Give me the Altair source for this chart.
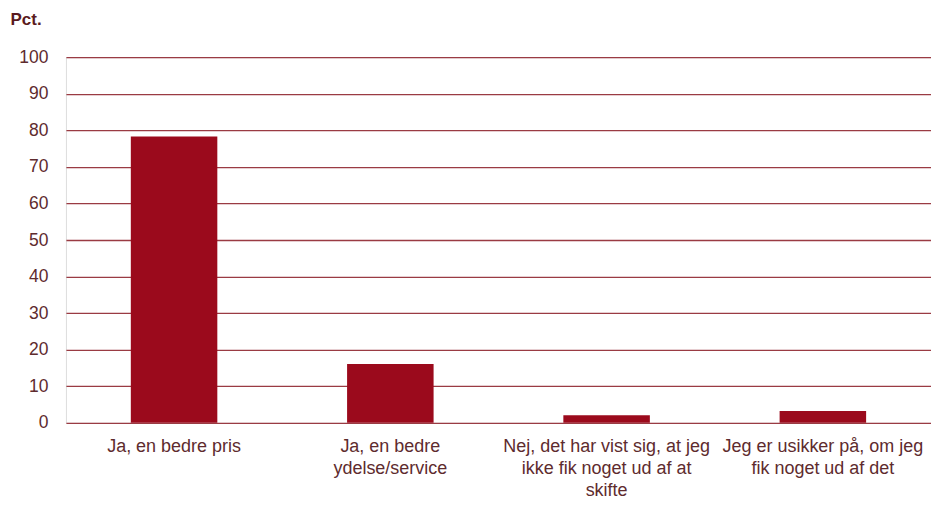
import altair as alt
import pandas as pd

categories = [
    "Ja, en bedre pris",
    "Ja, en bedre ydelse/service",
    "Nej, det har vist sig, at jeg ikke fik noget ud af at skifte",
    "Jeg er usikker på, om jeg fik noget ud af det",
]
label_lines = [
    ["Ja, en bedre pris"],
    ["Ja, en bedre", "ydelse/service"],
    ["Nej, det har vist sig, at jeg", "ikke fik noget ud af at", "skifte"],
    ["Jeg er usikker på, om jeg", "fik noget ud af det"],
]
values = [78.3, 16.1, 2.1, 3.2]

df = pd.DataFrame({"kategori": categories, "pct": values})

def js_str(s):
    return "'" + s.replace("'", "\\'") + "'"

expr = "datum.label"
for cat, lines in reversed(list(zip(categories, label_lines))):
    arr = "[" + ",".join(js_str(l) for l in lines) + "]"
    expr = f"datum.value == {js_str(cat)} ? {arr} : ({expr})"

FONT = "Liberation Sans"
TXT = "#5e2b2e"
GRID = "#9a3b43"
BAR = "#9b0a1c"

chart = (
    alt.Chart(df)
    .mark_bar(color=BAR)
    .encode(
        x=alt.X(
            "kategori:N",
            sort=categories,
            scale=alt.Scale(paddingInner=0.6, paddingOuter=0.3),
            axis=alt.Axis(
                title=None,
                labelAngle=0,
                labelExpr=expr,
                labelFont=FONT,
                labelFontSize=18,
                labelColor=TXT,
                labelLineHeight=22,
                labelPadding=15,
                ticks=False,
                domain=False,
                labelLimit=300,
            ),
        ),
        y=alt.Y(
            "pct:Q",
            scale=alt.Scale(domain=[0, 100]),
            axis=alt.Axis(
                values=list(range(0, 101, 10)),
                title="Pct.",
                titleAngle=0,
                titleAlign="left",
                titleBaseline="alphabetic",
                titleX=-56,
                titleY=-33,
                titleFont=FONT,
                titleFontSize=17,
                titleFontWeight="bold",
                titleColor="#5a1a20",
                labelFont=FONT,
                labelFontSize=17.5,
                labelColor=TXT,
                labelPadding=18,
                ticks=False,
                domain=False,
                grid=True,
                gridColor=GRID,
                gridWidth=1.3,
            ),
        ),
    )
    .properties(
        width=866,
        height=366,
        autosize=alt.AutoSizeParams(type="none"),
        padding={"left": 58, "top": 49, "right": 0, "bottom": 76},
    )
    .configure_view(stroke=None)
    .configure(background="white")
)

chart.save("out.html", embed_options={"renderer": "svg", "actions": False})
